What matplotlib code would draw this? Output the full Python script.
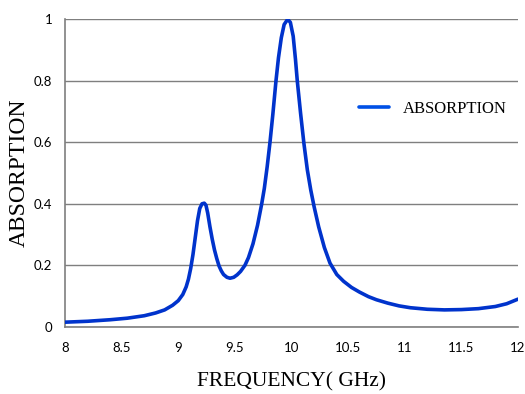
import matplotlib
matplotlib.use("Agg")
import matplotlib.pyplot as plt

# Data
freq_ghz = [8.0, 8.2, 8.4, 8.55, 8.7, 8.8, 8.88, 8.95, 9.0, 9.04, 9.07, 9.09,
            9.11, 9.13, 9.15, 9.17, 9.19, 9.21, 9.23, 9.245, 9.26, 9.28, 9.30,
            9.32, 9.34, 9.36, 9.38, 9.40, 9.43, 9.457, 9.49, 9.52, 9.55, 9.589,
            9.62, 9.66, 9.70, 9.737, 9.76, 9.785, 9.81, 9.835, 9.863, 9.885,
            9.91, 9.935, 9.966, 9.99, 10.015, 10.035, 10.051, 10.08, 10.11,
            10.14, 10.17, 10.20, 10.24, 10.29, 10.34, 10.40, 10.46, 10.53,
            10.60, 10.68, 10.75, 10.85, 10.95, 11.05, 11.2, 11.35, 11.5, 11.65,
            11.8, 11.9, 12.0]
absorption = [0.015, 0.018, 0.023, 0.028, 0.036, 0.045, 0.055, 0.070, 0.085,
              0.105, 0.130, 0.155, 0.190, 0.235, 0.290, 0.345, 0.385, 0.400,
              0.402, 0.395, 0.370, 0.325, 0.285, 0.250, 0.222, 0.198, 0.182,
              0.170, 0.161, 0.158, 0.161, 0.169, 0.180, 0.200, 0.225, 0.270,
              0.330, 0.400, 0.450, 0.520, 0.600, 0.690, 0.800, 0.875, 0.940,
              0.983, 1.000, 0.990, 0.945, 0.870, 0.800, 0.695, 0.595, 0.510,
              0.445, 0.390, 0.325, 0.258, 0.207, 0.170, 0.148, 0.128, 0.113,
              0.098, 0.088, 0.077, 0.068, 0.062, 0.057, 0.055, 0.056, 0.059,
              0.066, 0.075, 0.090]
x_ticks = [8, 8.5, 9, 9.5, 10, 10.5, 11, 11.5, 12]
x_tick_labels = ["8", "8.5", "9", "9.5", "10", "10.5", "11", "11.5", "12"]
y_ticks = [0, 0.2, 0.4, 0.6, 0.8, 1.0]
y_tick_labels = ["0", "0.2", "0.4", "0.6", "0.8", "1"]
series_name = "ABSORPTION"

fig = plt.figure(figsize=(5.25, 3.94), dpi=100)
ax = fig.add_axes([65/525, 1 - 326.8/394, (518-65)/525, (326.8-19.3)/394])

ax.plot(freq_ghz, absorption, color="#0033cc", lw=2.6, label=series_name,
        solid_capstyle="round", solid_joinstyle="round", zorder=3)

ax.set_xlim(8, 12)
ax.set_ylim(0, 1)
ax.set_xticks(x_ticks)
ax.set_xticklabels(x_tick_labels)
ax.set_yticks(y_ticks)
ax.set_yticklabels(y_tick_labels)

grid_color = "#7f7f7f"
ax.grid(axis="y", color=grid_color, lw=1.0, zorder=1)
ax.set_axisbelow(True)
for s in ["top", "right"]:
    ax.spines[s].set_visible(False)
for s in ["left", "bottom"]:
    ax.spines[s].set_color(grid_color)
    ax.spines[s].set_linewidth(1.2)

ax.tick_params(axis="both", length=0, labelsize=9.5)
ax.tick_params(axis="x", pad=11)
ax.tick_params(axis="y", pad=9)
for lab in ax.get_xticklabels() + ax.get_yticklabels():
    lab.set_fontfamily("Lato")
    lab.set_color("#000000")

fig.text(291.5/525, 1 - 382/394, "FREQUENCY( GHz)", family="Liberation Serif",
         fontsize=15.5, ha="center", va="center")
fig.text(19.5/525, 1 - 172.5/394, "ABSORPTION", family="Liberation Serif",
         fontsize=17, ha="center", va="center", rotation=90)

leg = ax.legend(loc="center left", bbox_to_anchor=(359/525, 1 - 109/394),
                bbox_transform=fig.transFigure, frameon=False,
                prop={"family": "Liberation Serif", "size": 12},
                handlelength=1.8, handletextpad=0.85, borderpad=0,
                borderaxespad=0)
leg.get_lines()[0].set_color("#0050e6")
leg.get_lines()[0].set_linewidth(2.6)

fig.savefig("out.png", dpi=100)
